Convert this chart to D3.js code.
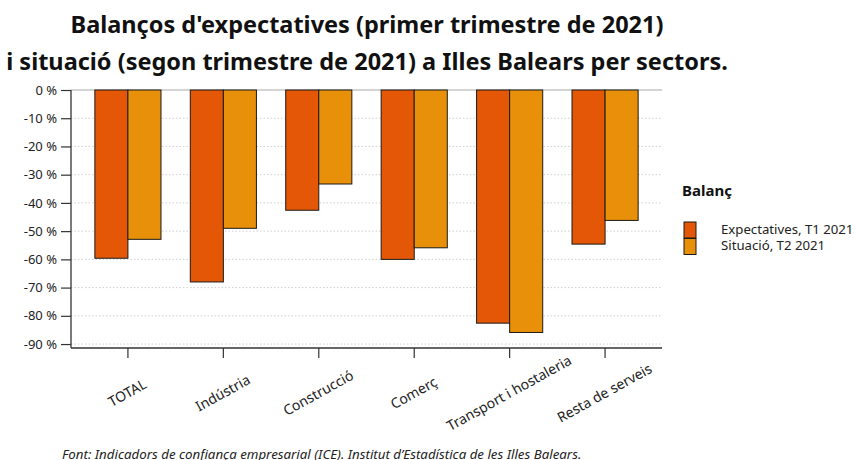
<!DOCTYPE html>
<html>
<head>
<meta charset="utf-8">
<script src="https://cdn.jsdelivr.net/npm/d3@7"></script>
<style>
  body { margin: 0; background: #fff; }
  svg, svg text { font-family: "Noto Sans", sans-serif; }
</style>
</head>
<body>
<svg id="chart" width="855" height="460"></svg>
<script>
// data
var sectors = ["TOTAL", "Indústria", "Construcció", "Comerç", "Transport i hostaleria", "Resta de serveis"];
var seriesNames = ["Expectatives, T1 2021", "Situació, T2 2021"];
var expectatives = [-59.6, -68.0, -42.6, -60.0, -82.6, -54.6];
var situacio = [-52.9, -49.0, -33.3, -55.9, -85.9, -46.2];
var yTicks = [0, -10, -20, -30, -40, -50, -60, -70, -80, -90];
var colors = ["#e35707", "#e8900a"];

var svg = d3.select("#chart");
var mLeft = 71, mRight = 662, mTop = 90, mBottom = 348;

var x = d3.scaleBand().domain(sectors).range([mLeft, mRight]).paddingOuter(0.25).paddingInner(0.307);
var xs = d3.scaleBand().domain(seriesNames).range([0, x.bandwidth()]);
var y = d3.scaleLinear().domain([0, -91.4]).range([mTop, mBottom]);

// gridlines
svg.append("g")
  .selectAll("line")
  .data(yTicks.slice(1))
  .enter().append("line")
  .attr("x1", mLeft).attr("x2", mRight)
  .attr("y1", d => y(d)).attr("y2", d => y(d))
  .attr("stroke", "#cfcfcf").attr("stroke-width", 1)
  .attr("stroke-dasharray", "1.5,2");

svg.append("line")
  .attr("x1", mLeft).attr("x2", mRight)
  .attr("y1", y(0)).attr("y2", y(0))
  .attr("stroke", "#aaa").attr("stroke-width", 1.2);

// bars
var rows = sectors.map((s, i) => ({ sector: s, vals: [expectatives[i], situacio[i]] }));
var groups = svg.append("g").selectAll("g")
  .data(rows).enter().append("g")
  .attr("transform", d => "translate(" + x(d.sector) + ",0)");

groups.selectAll("rect")
  .data(d => d.vals.map((v, j) => ({ name: seriesNames[j], v: v, j: j })))
  .enter().append("rect")
  .attr("x", d => xs(d.name))
  .attr("width", xs.bandwidth())
  .attr("y", y(0))
  .attr("height", d => y(d.v) - y(0))
  .attr("fill", d => colors[d.j])
  .attr("stroke", "#1a1a1a").attr("stroke-width", 1);

// y axis
var yAxis = svg.append("g")
  .attr("transform", "translate(" + mLeft + ",0)")
  .call(d3.axisLeft(y).tickValues(yTicks).tickSize(10).tickPadding(4).tickFormat(d => d + " %"));
yAxis.attr("font-family", null);
yAxis.select(".domain").attr("d", "M0," + mTop + "V" + mBottom).attr("stroke", "#333").attr("stroke-width", 1.3);
yAxis.selectAll(".tick line").attr("stroke", "#333").attr("stroke-width", 1.2);
yAxis.selectAll("text").attr("font-size", 13).attr("fill", "#222");

// x axis
var xAxis = svg.append("g")
  .attr("transform", "translate(0," + mBottom + ")")
  .call(d3.axisBottom(x).tickSize(10).tickSizeOuter(0));
xAxis.attr("font-family", null);
xAxis.select(".domain").attr("d", "M" + mLeft + ",0H" + mRight).attr("stroke", "#333").attr("stroke-width", 1.3);
xAxis.selectAll(".tick line").attr("stroke", "#333").attr("stroke-width", 1.2);
xAxis.selectAll("text")
  .attr("font-size", 14).attr("fill", "#222")
  .attr("text-anchor", "middle")
  .attr("dy", null).attr("y", null)
  .attr("transform", "translate(0,46) rotate(-29)")
  .attr("dominant-baseline", "middle");

// title
var title = svg.append("text")
  .attr("text-anchor", "middle")
  .attr("font-size", 23.5).attr("font-weight", "bold").attr("fill", "#111");
title.append("tspan").attr("x", 367).attr("y", 33).text("Balanços d'expectatives (primer trimestre de 2021)");
title.append("tspan").attr("x", 367).attr("y", 70).text("i situació (segon trimestre de 2021) a Illes Balears per sectors.");

// legend
var legend = svg.append("g");
legend.append("text").attr("x", 682).attr("y", 196)
  .attr("font-size", 15).attr("font-weight", "bold").attr("fill", "#111").text("Balanç");
var items = legend.selectAll("g").data(seriesNames).enter().append("g")
  .attr("transform", (d, i) => "translate(684," + (222 + i * 16.5) + ")");
items.append("rect").attr("width", 12).attr("height", 16)
  .attr("fill", (d, i) => colors[i]).attr("stroke", "#1a1a1a").attr("stroke-width", 1);
items.append("text").attr("x", 37).attr("y", 8).attr("dominant-baseline", "middle")
  .attr("font-size", 13.2).attr("fill", "#222").text(d => d);

// source
svg.append("text").attr("x", 62).attr("y", 459)
  .attr("font-size", 13.3).attr("font-style", "italic").attr("fill", "#222")
  .text("Font: Indicadors de confiança empresarial (ICE). Institut d’Estadística de les Illes Balears.");
</script>
</body>
</html>
